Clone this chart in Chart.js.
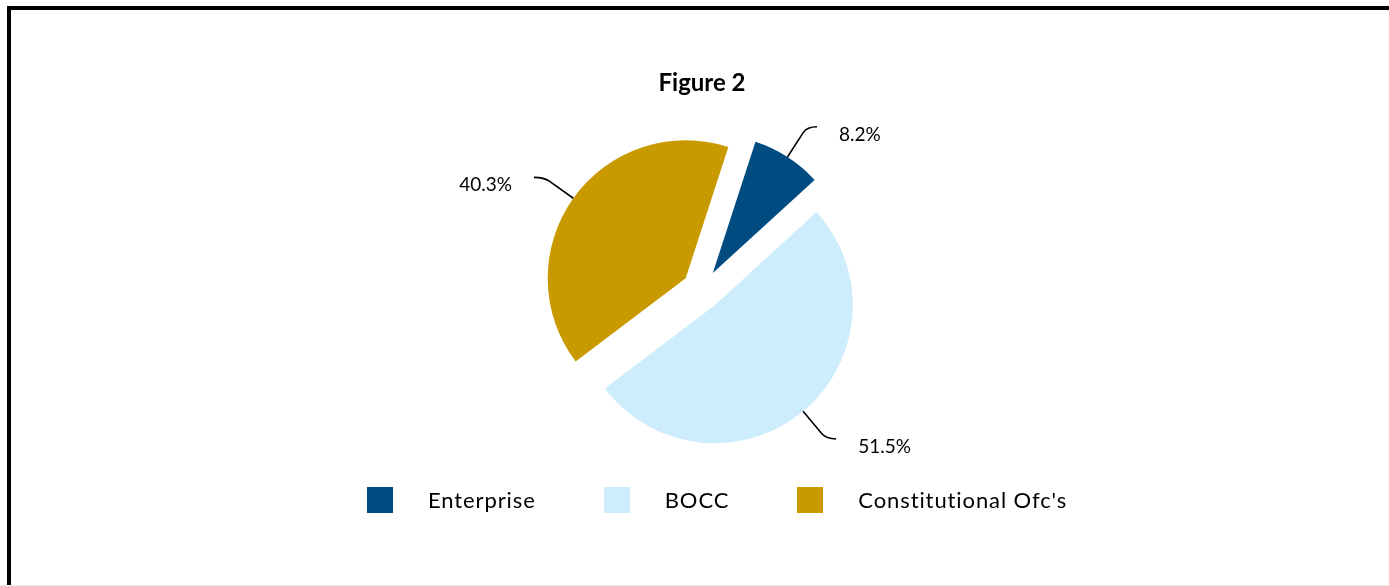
<!DOCTYPE html>
<html>
<head>
<meta charset="utf-8">
<title>Figure 2</title>
<script src="https://cdn.jsdelivr.net/npm/chart.js@4/dist/chart.umd.min.js"></script>
<style>
  html, body { margin: 0; padding: 0; background: #fff; }
  body { width: 1389px; height: 586px; position: relative; overflow: hidden; font-family: Lato, sans-serif; }
  #frame { position: absolute; left: 7px; top: 6px; width: 1500px; height: 700px; border-left: 4px solid #000; border-top: 4px solid #000; }
  #baseline { position: absolute; left: 0; top: 585px; width: 1389px; height: 1px; background: #ececec; }
  #wrap { position: absolute; left: 0; top: 0; width: 1389px; height: 586px; }
  #legend { position: absolute; left: 367px; top: 486px; display: flex; align-items: center; font-size: 22px; letter-spacing: 0.9px; color: #000; }
  #legend .item { display: flex; align-items: center; margin-right: 68px; }
  #legend .box { width: 26px; height: 26px; margin-right: 35px; }
</style>
</head>
<body>
<div id="frame"></div>
<div id="baseline"></div>
<div id="wrap"><canvas id="pie" width="1389" height="586"></canvas></div>
<div id="legend"></div>

<script>
// kategoriat ja osuudet (%)
const categories = ['Enterprise', 'BOCC', "Constitutional Ofc's"]
const shares = [8.2, 51.5, 40.3]
const shareLabels = ['8.2%', '51.5%', '40.3%']
const sliceColors = ['#004b7f', '#cdedfc', '#c99a00']

const EXPLODE = 20   // kuinka paljon siivuja siirretään keskipisteestä
const LEAD = 36      // viivan pituus kaaren reunasta
const TAIL = 10      // vaakasuora häntä
const GAP = 22       // väli tekstiin

// piirretään siivut erilleen toisistaan
const explodePlugin = {
  id: 'explode',
  beforeDatasetDraw(chart, args) {
    const ctx = chart.ctx
    args.meta.data.forEach(arc => {
      const mid = (arc.startAngle + arc.endAngle) / 2
      ctx.save()
      ctx.translate(Math.cos(mid) * EXPLODE, Math.sin(mid) * EXPLODE)
      arc.draw(ctx, chart.chartArea)
      ctx.restore()
    })
    return false
  }
}

// prosenttitekstit ja kaarevat viivat
const leaderPlugin = {
  id: 'leaders',
  afterDatasetsDraw(chart) {
    const ctx = chart.ctx
    const meta = chart.getDatasetMeta(0)
    ctx.save()
    ctx.strokeStyle = '#000'
    ctx.lineWidth = 1.6
    ctx.fillStyle = '#000'
    ctx.font = '19px Lato'
    ctx.textBaseline = 'middle'
    meta.data.forEach((arc, i) => {
      const mid = (arc.startAngle + arc.endAngle) / 2
      const cos = Math.cos(mid), sin = Math.sin(mid)
      const cx = arc.x + cos * EXPLODE
      const cy = arc.y + sin * EXPLODE
      const r = arc.outerRadius
      const side = cos >= 0 ? 1 : -1
      const ex = cx + cos * (r + LEAD)
      const ey = cy + sin * (r + LEAD)
      const bx = cx + cos * (r + LEAD - 7)
      const by = cy + sin * (r + LEAD - 7)
      ctx.beginPath()
      ctx.moveTo(cx + cos * r, cy + sin * r)
      ctx.lineTo(bx, by)
      ctx.quadraticCurveTo(ex, ey, ex + side * TAIL, ey)
      ctx.stroke()
      ctx.textAlign = side > 0 ? 'left' : 'right'
      ctx.fillText(shareLabels[i], ex + side * (TAIL + GAP), ey + 8)
    })
    ctx.restore()
  }
}

Chart.defaults.font.family = 'Lato'
Chart.defaults.color = '#000'

new Chart(document.getElementById('pie'), {
  type: 'pie',
  data: {
    labels: categories,
    datasets: [{
      data: shares,
      backgroundColor: sliceColors,
      borderWidth: 0,
      radius: 138
    }]
  },
  options: {
    responsive: false,
    animation: false,
    rotation: 18,
    layout: { padding: { left: 15, right: 0, top: 0, bottom: 114 } },
    plugins: {
      legend: { display: false },
      tooltip: { enabled: false },
      title: {
        display: true,
        text: 'Figure 2',
        font: { size: 24, weight: 'bold' },
        padding: { top: 69, bottom: 10 }
      }
    }
  },
  plugins: [explodePlugin, leaderPlugin]
})

// selite
let legend = document.getElementById('legend')
categories.forEach((name, i) => {
  let item = document.createElement('div')
  item.className = 'item'
  let box = document.createElement('span')
  box.className = 'box'
  box.style.background = sliceColors[i]
  item.appendChild(box)
  item.appendChild(document.createTextNode(name))
  legend.appendChild(item)
})
</script>
</body>
</html>
